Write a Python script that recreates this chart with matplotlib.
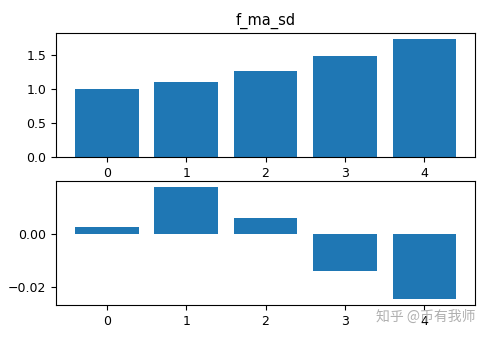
import matplotlib.pyplot as plt
import numpy as np

# data
idx = [0, 1, 2, 3, 4]
f_ma_sd = [1.0, 1.11, 1.26, 1.49, 1.74]
diff = [0.0023, 0.0176, 0.0057, -0.0138, -0.0246]


def main() -> None:
    plt.rcParams["font.family"] = ["DejaVu Sans", "Noto Sans CJK SC"]
    fig = plt.figure(figsize=(4.93, 3.42), dpi=100)
    ax1 = fig.add_axes([0.1136, 0.541, 0.85, 0.3625])
    ax2 = fig.add_axes([0.1136, 0.108, 0.85, 0.363])

    ax1.bar(idx, f_ma_sd, color="#1f77b4")
    ax1.set_title("f_ma_sd", fontsize=10.5)
    ax1.set_xticks(idx)

    ax2.bar(idx, diff, color="#1f77b4")
    ax2.set_xticks(idx)
    ax2.set_yticks([-0.02, 0.0])
    ax2.set_yticklabels(["\u22120.02", "0.00"])

    for ax in (ax1, ax2):
        ax.tick_params(labelsize=9)

    fig.text(0.965, 0.075, "知乎 @币有我师", ha="right", va="center",
             fontsize=10, color="#b0b0b0", family=["Noto Sans CJK SC", "DejaVu Sans"])

    fig.savefig("out.png", dpi=100)
    plt.close(fig)


if __name__ == "__main__":
    main()
